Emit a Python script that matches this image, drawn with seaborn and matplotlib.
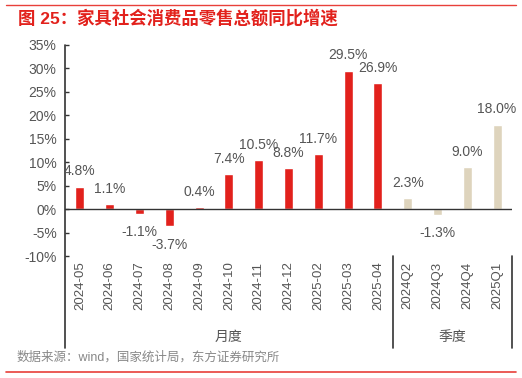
import pandas as pd
import matplotlib.pyplot as plt
import matplotlib.transforms as mtransforms
import seaborn as sns

# data
months = ["2024-05", "2024-06", "2024-07", "2024-08", "2024-09", "2024-10",
          "2024-11", "2024-12", "2025-02", "2025-03", "2025-04"]
month_vals = [4.8, 1.1, -1.1, -3.7, 0.4, 7.4, 10.5, 8.8, 11.7, 29.5, 26.9]
quarters = ["2024Q2", "2024Q3", "2024Q4", "2025Q1"]
quarter_vals = [2.3, -1.3, 9.0, 18.0]
yticks = [-10, -5, 0, 5, 10, 15, 20, 25, 30, 35]

df = pd.DataFrame({
    "period": months + quarters,
    "value": month_vals + quarter_vals,
    "group": ["月度"] * len(months) + ["季度"] * len(quarters),
})

sns.set_style("white")
plt.rcParams["font.family"] = ["Liberation Sans", "Noto Sans CJK SC", "DejaVu Sans"]

RED = "#E2211C"
BEIGE = "#DED4BD"
GREY = "#555555"

fig = plt.figure(figsize=(5.22, 3.78), dpi=100)
ax = fig.add_axes([65 / 522, 1 - 256 / 378, (512 - 65) / 522, 211 / 378])

sns.barplot(data=df, x="period", y="value", hue="group",
            palette={"月度": RED, "季度": BEIGE}, dodge=False, saturation=1,
            width=0.3, legend=False, ax=ax)

ax.set_ylim(-10, 35)
ax.set_xlim(-0.5, len(df) - 0.5)
ax.set_yticks(yticks)
ax.set_yticklabels([f"{t}%" for t in yticks], fontsize=10, color=GREY)
ax.tick_params(axis="y", direction="in", length=3, width=1, color="#333333", left=True, pad=6)
ax.tick_params(axis="x", length=0, pad=4)
ax.set_xticks(range(len(df)))
ax.set_xticklabels(df["period"], rotation=90, fontsize=9.5, color=GREY)
ax.set_xlabel("")
ax.set_ylabel("")
for s in ["top", "right", "bottom", "left"]:
    ax.spines[s].set_visible(False)
ax.axhline(0, color="#333333", lw=1)

# value labels
for i, v in enumerate(df["value"]):
    if v >= 0:
        ax.annotate(f"{v:.1f}%", (i, v), xytext=(0, 6), textcoords="offset points",
                    ha="center", va="bottom", fontsize=10, color=GREY)
    else:
        ax.annotate(f"{v:.1f}%", (i, v), xytext=(0, -8), textcoords="offset points",
                    ha="center", va="top", fontsize=10, color=GREY)

# axis line and group separators extending below the axes
trans = mtransforms.blended_transform_factory(ax.transData, ax.transAxes)
low = -0.436
ax.plot([-0.5, -0.5], [low, 1.0], transform=trans, color="#333333", lw=1.2, clip_on=False)
for xs in [len(months) - 0.5, len(df) - 0.5]:
    ax.plot([xs, xs], [low, 0.0], transform=trans, color="#333333", lw=1.2, clip_on=False)
ax.text((len(months) - 1) / 2, -0.384, "月度", transform=trans, ha="center", va="center",
        fontsize=10, color=GREY)
ax.text(len(months) + (len(quarters) - 1) / 2, -0.384, "季度", transform=trans,
        ha="center", va="center", fontsize=10, color=GREY)

# title, source and frame lines
fig.text(18 / 522, 1 - 18 / 378, "图 25：家具社会消费品零售总额同比增速", ha="left", va="center",
         fontsize=12.5, fontweight="bold", color=RED)
fig.text(17 / 522, 1 - 357 / 378, "数据来源：wind，国家统计局，东方证券研究所", ha="left",
         va="center", fontsize=9, color="#888888")
fig.add_artist(plt.Line2D([6 / 522, 516 / 522], [1 - 5 / 378, 1 - 5 / 378],
                          color="#E8403A", lw=1))
fig.add_artist(plt.Line2D([6 / 522, 516 / 522], [1 - 372 / 378, 1 - 372 / 378],
                          color="#E8403A", lw=1.2))

fig.savefig("out.png", dpi=100)
